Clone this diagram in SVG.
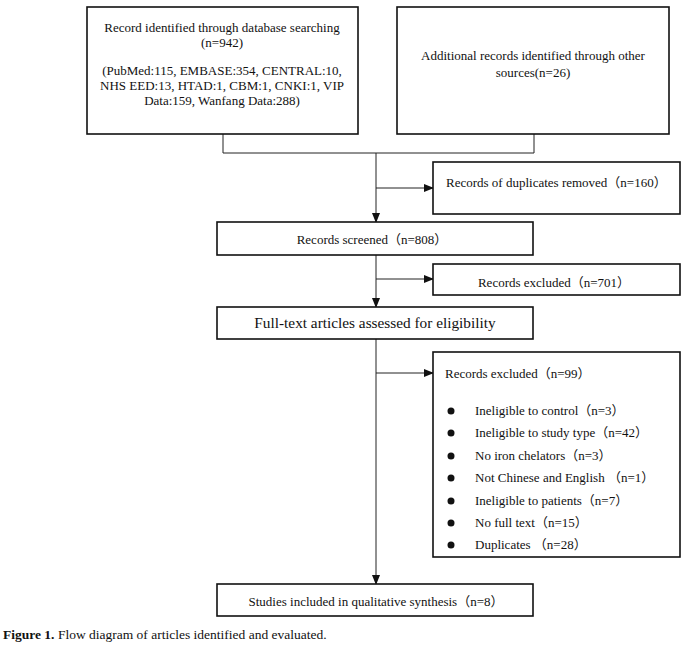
<svg xmlns="http://www.w3.org/2000/svg" width="691" height="650" viewBox="0 0 691 650">
<style>
.box{fill:#fff;stroke:#111;stroke-width:1.6}
.ln{fill:none;stroke:#222;stroke-width:1}
text{font-family:"Liberation Serif","Noto Sans CJK SC",serif;font-size:13px;fill:#111}
.c{text-anchor:middle}
</style>
<defs>
<marker id="ah" markerWidth="10" markerHeight="8" refX="9" refY="4" orient="auto" markerUnits="userSpaceOnUse">
<path d="M0,0 L10,4 L0,8 Z" fill="#111"/>
</marker>
</defs>
<rect width="691" height="650" fill="#fff"/>
<g id="connectors">
<path class="ln" d="M223,134 V153 H534 V134"/>
<path class="ln" d="M376,153 V222" marker-end="url(#ah)"/>
<path class="ln" d="M376,188 H433" marker-end="url(#ah)"/>
<path class="ln" d="M376,255 V307" marker-end="url(#ah)"/>
<path class="ln" d="M376,279 H433" marker-end="url(#ah)"/>
<path class="ln" d="M376,339 V584" marker-end="url(#ah)"/>
<path class="ln" d="M376,373 H433" marker-end="url(#ah)"/>
</g>
<g id="db">
<rect class="box" x="87" y="7" width="271" height="127"/>
<text class="c" x="222" y="32">Record identified through database searching</text>
<text class="c" x="222" y="47">(n=942)</text>
<text class="c" x="222" y="75">(PubMed:115, EMBASE:354, CENTRAL:10,</text>
<text class="c" x="222" y="90">NHS EED:13, HTAD:1, CBM:1, CNKI:1, VIP</text>
<text class="c" x="222" y="105">Data:159, Wanfang Data:288)</text>
</g>
<g id="other">
<rect class="box" x="397" y="7" width="272" height="127"/>
<text class="c" x="533" y="60">Additional records identified through other</text>
<text class="c" x="533" y="77">sources(n=26)</text>
</g>
<g id="dup">
<rect class="box" x="433" y="162" width="247" height="52"/>
<text x="446" y="187">Records of duplicates removed（n=160）</text>
</g>
<g id="screened">
<rect class="box" x="217" y="222" width="316" height="33"/>
<text class="c" x="372" y="244">Records screened（n=808）</text>
</g>
<g id="excl701">
<rect class="box" x="433" y="264" width="247" height="31"/>
<text class="c" x="554" y="287">Records excluded（n=701）</text>
</g>
<g id="fulltext">
<rect class="box" x="217" y="307" width="316" height="32"/>
<text class="c" x="375" y="328" style="font-size:15.3px">Full-text articles assessed for eligibility</text>
</g>
<g id="excl99">
<rect class="box" x="433" y="352" width="247" height="205"/>
<text x="445" y="378">Records excluded（n=99）</text>
<g fill="#111">
<circle cx="451" cy="411" r="3.5"/>
<circle cx="451" cy="433" r="3.5"/>
<circle cx="451" cy="456" r="3.5"/>
<circle cx="451" cy="478" r="3.5"/>
<circle cx="451" cy="501" r="3.5"/>
<circle cx="451" cy="523" r="3.5"/>
<circle cx="451" cy="545" r="3.5"/>
</g>
<text x="475" y="415">Ineligible to control（n=3）</text>
<text x="475" y="437">Ineligible to study type（n=42）</text>
<text x="475" y="460">No iron chelators（n=3）</text>
<text x="475" y="482">Not Chinese and English （n=1）</text>
<text x="475" y="505">Ineligible to patients（n=7）</text>
<text x="475" y="527">No full text（n=15）</text>
<text x="475" y="549">Duplicates （n=28）</text>
</g>
<g id="included">
<rect class="box" x="217" y="584" width="316" height="32"/>
<text class="c" x="376" y="606">Studies included in qualitative synthesis（n=8）</text>
</g>
<text x="3" y="639" style="font-size:13.5px"><tspan font-weight="bold">Figure 1.</tspan> Flow diagram of articles identified and evaluated.</text>
</svg>
